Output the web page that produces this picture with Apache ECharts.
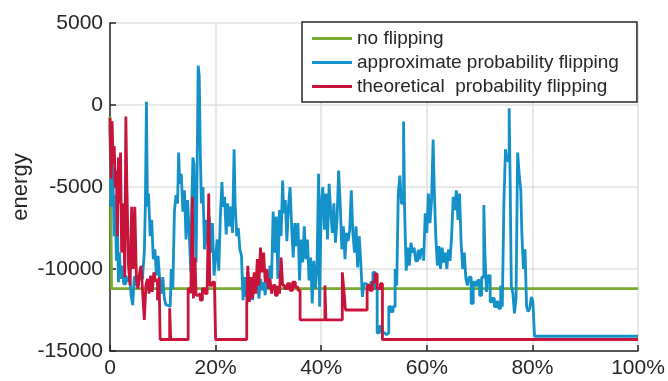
<!DOCTYPE html>
<html>
<head>
<meta charset="utf-8">
<script src="https://cdn.jsdelivr.net/npm/echarts@6/dist/echarts.min.js"></script>
<style>
  html, body { margin: 0; padding: 0; background: #fff; }
  #chart { width: 668px; height: 381px; }
</style>
</head>
<body>
<div id="chart"></div>
<script>
// x in percent of run, y = energy
const xTicks = [0, 20, 40, 60, 80, 100];
const yTicks = [-15000, -10000, -5000, 0, 5000];

const greenX = [0, 0.3, 100];
const greenY = [-700, -11200, -11200];

const blueX = [0, 0.2, 0.4, 0.6, 0.8, 1.0, 1.2, 1.4, 1.6, 1.8, 2.0, 2.3, 2.6, 3.0, 3.3, 3.7, 4.0, 4.3, 4.6, 5.0,
  5.4, 5.8, 6.2, 6.5, 6.7, 6.9, 7.1, 7.3, 7.6, 7.9, 8.2, 8.5, 8.8, 9.1, 9.4, 9.7, 10.0, 10.3, 10.6, 11.0,
  11.4, 11.6, 11.9, 12.2, 12.5, 12.8, 13.0, 13.2, 13.5, 13.8, 14.1, 14.4, 14.7, 15.0, 15.3, 15.5, 15.7, 15.9, 16.1, 16.3,
  16.5, 16.7, 16.9, 17.1, 17.3, 17.6, 17.9, 18.2, 18.5, 18.8, 19.1, 19.4, 19.7, 20.0, 20.3, 20.6, 20.9, 21.2, 21.4, 21.7,
  22.0, 22.3, 22.6, 22.9, 23.2, 23.5, 23.7, 24.0, 24.3, 24.6, 24.9, 25.2, 25.5, 25.8, 26.1, 26.4, 26.7, 27.0, 27.3, 27.6,
  27.9, 28.2, 28.5, 28.8, 29.1, 29.4, 29.7, 30.0, 30.3, 30.6, 30.9, 31.2, 31.5, 31.8, 32.1, 32.4, 32.7, 32.9, 33.2, 33.5,
  33.8, 34.1, 34.4, 34.7, 35.0, 35.3, 35.6, 35.9, 36.2, 36.5, 36.8, 37.1, 37.4, 37.7, 38.0, 38.3, 38.6, 38.9, 39.2, 39.5,
  39.7, 40.0, 40.3, 40.6, 40.9, 41.2, 41.5, 41.8, 42.1, 42.4, 42.7, 43.0, 43.3, 43.6, 43.9, 44.2, 44.5, 44.8, 45.1, 45.4,
  45.7, 46.0, 46.3, 46.6, 46.9, 47.2, 47.5, 47.8, 48.1, 48.5, 49.0, 49.4, 49.8, 50.2, 50.6, 51.0, 51.5, 52.0, 52.4, 52.8,
  53.2, 53.6, 54.0, 54.3, 54.6, 54.9, 55.2, 55.6, 55.8, 56.1, 56.4, 56.7, 57.0, 57.3, 57.6, 57.9, 58.3, 58.7, 59.0, 59.4,
  59.7, 60.0, 60.3, 60.6, 60.9, 61.2, 61.4, 61.7, 62.0, 62.3, 62.6, 62.9, 63.2, 63.5, 63.8, 64.1, 64.4, 64.7, 65.0, 65.3,
  65.6, 65.9, 66.2, 66.5, 66.8, 67.1, 67.4, 67.7, 68.0, 68.4, 68.8, 69.2, 69.6, 70.0, 70.4, 70.8, 71.0, 71.3, 71.6, 72.0,
  72.4, 72.8, 73.2, 73.6, 74.0, 74.3, 74.6, 74.9, 75.2, 75.6, 75.8, 76.0, 76.3, 76.6, 76.9, 77.2, 77.5, 77.8, 78.0, 78.3,
  78.6, 78.9, 79.2, 79.5, 79.8, 80.1, 80.4, 80.7, 100];
const blueY = [-1200, -6200, -3500, -5000, -8000, -5500, -9500, -7200, -10800, -9000, -10600, -9800, -10900, -10400, -10700, -10300, -11600, -12200, -10500, -11000,
  -10400, -10600, -10300, -9000, -6000, 200, -6200, -5400, -8000, -7000, -9400, -8800, -10400, -9200, -10600, -11500, -10500, -11800, -12200, -12300,
  -12300, -10000, -11200, -6500, -5500, -6000, -2900, -4800, -4200, -6500, -5200, -8200, -5800, -7800, -10200, -6000, -3200, -3600, -6800, -9600,
  -4000, 2400, 1800, -2800, -6000, -5000, -8800, -7000, -8500, -6800, -9000, -7200, -10400, -9300, -8200, -10100, -6800, -4700, -6200, -5600,
  -7900, -6000, -7400, -6200, -7800, -2700, -6000, -8000, -7500, -8800, -9200, -11900, -10500, -11700, -10200, -11400, -10800, -11900, -10500, -11200,
  -10400, -11800, -10600, -11300, -10800, -11600, -10200, -11000, -9800, -10600, -6500, -9000, -6800, -10600, -6400, -8000, -4600, -6600, -5800, -8300,
  -6200, -5000, -7400, -9300, -7200, -8600, -7200, -10700, -8200, -9600, -7400, -9400, -8200, -10700, -9300, -12100, -9500, -11200, -10000, -4200,
  -12300, -6000, -5000, -7600, -5400, -8200, -4800, -6500, -7800, -6000, -8400, -7000, -4000, -6000, -8800, -7400, -9400, -7800, -8300, -7600,
  -5200, -7800, -9000, -7400, -9900, -8000, -9600, -11700, -10900, -11000, -11000, -10800, -10200, -11200, -13900, -13500, -13900, -14000, -13900, -12300,
  -12600, -12300, -10000, -11000, -5400, -4300, -6000, -1000, -6500, -10100, -8700, -9800, -8400, -9000, -8700, -9500, -8900, -9400, -8800, -9500,
  -6600, -7800, -5400, -7200, -5800, -2100, -5000, -8000, -9800, -8600, -10000, -8700, -9600, -9000, -10000, -8800, -9500, -8000, -5600, -6400,
  -5200, -7000, -5400, -8400, -10000, -9000, -10600, -11000, -10500, -12100, -10800, -11000, -10700, -11600, -10500, -6100, -9000, -11400, -10400, -12000,
  -11800, -12300, -12000, -12400, -11000, -12300, -6000, -2700, -3400, -200, -5000, -11000, -11500, -12700, -11800, -2900, -4200, -5200, -7800, -10000,
  -8800, -12300, -12600, -12400, -11700, -12000, -14100, -14100, -14100];

const redX = [0, 0.2, 0.4, 0.6, 0.8, 1.0, 1.2, 1.4, 1.6, 1.8, 2.0, 2.2, 2.5, 2.8, 3.0, 3.2, 3.5, 3.8, 4.1, 4.4,
  4.7, 5.0, 5.3, 5.6, 5.9, 6.2, 6.5, 6.8, 7.1, 7.4, 7.7, 8.0, 8.3, 8.6, 9.0, 9.3, 9.5, 11.3, 11.5, 14.8,
  15.3, 15.6, 15.8, 16.1, 16.3, 16.7, 17.1, 17.5, 18.0, 18.4, 18.7, 18.9, 19.4, 19.8, 20.0, 25.9, 26.1, 26.4, 26.7, 27.0,
  27.3, 27.6, 27.9, 28.2, 28.5, 28.8, 29.1, 29.4, 29.7, 30.0, 30.3, 30.6, 30.9, 31.3, 31.7, 32.1, 32.4, 32.7, 33.1, 33.6,
  34.1, 34.6, 35.1, 35.6, 36.0, 40.7, 40.9, 44.0, 44.3, 44.6, 48.7, 49.2, 49.7, 50.2, 50.6, 51.2, 51.6, 100];
const redY = [-800, -4500, -1000, -3600, -2500, -5000, -4000, -8000, -3200, -6000, -2900, -9000, -6000, -10500, -700, -5000, -9800, -11000, -6200, -10000,
  -6200, -10600, -11200, -10200, -9800, -11500, -13100, -11000, -10600, -11500, -10400, -11400, -10200, -10700, -11900, -10500, -14300, -12400, -14300, -11200,
  -11500, -5600, -11800, -9300, -11600, -11500, -11900, -11200, -11500, -11300, -5400, -11000, -10800, -11200, -14300, -12300, -9800, -12000, -10500, -11800,
  -10200, -11500, -9400, -11000, -8700, -10200, -9000, -10800, -10000, -11200, -10600, -11500, -11000, -11600, -11100, -11500, -9300, -11000, -11200, -10900,
  -11300, -10800, -11100, -11300, -13100, -11000, -13100, -10200, -11300, -12500, -11000, -11300, -10800, -10300, -11200, -10900, -14300, -14300];

const names = ["no flipping", "approximate probability flipping", "theoretical  probability flipping"];
const colors = ["#77ac30", "#1591c9", "#c8143b"];

const zip = (xs, ys) => xs.map((x, i) => [x, ys[i]]);
const font = "Liberation Sans, Arial, sans-serif";
const ink = "#262626";

const chart = echarts.init(document.getElementById("chart"));
chart.setOption({
  animation: false,
  color: colors,
  grid: { left: 110, right: 30, top: 23, bottom: 30, containLabel: false, outerBoundsMode: "none" },
  legend: {
    orient: "vertical",
    left: 302,
    top: 22,
    padding: [7, 18, 6, 10],
    itemGap: 5,
    itemWidth: 40,
    itemHeight: 3,
    icon: "rect",
    backgroundColor: "#fff",
    borderColor: ink,
    borderWidth: 1.5,
    borderRadius: 0,
    textStyle: { fontFamily: font, fontSize: 19, color: ink, padding: [0, 0, 0, 0] },
    data: names,
  },
  xAxis: {
    type: "value",
    min: xTicks[0],
    max: xTicks[xTicks.length - 1],
    interval: 20,
    axisLine: { onZero: false, lineStyle: { color: ink, width: 1.5 } },
    axisTick: { inside: true, length: 6, lineStyle: { color: ink, width: 1.5 } },
    axisLabel: {
      color: ink, fontFamily: font, fontSize: 21, margin: 7,
      formatter: (v) => (v === 0 ? "0" : v + "%"),
    },
    splitLine: { lineStyle: { color: "#e0e0e0", width: 1.5 } },
  },
  yAxis: {
    type: "value",
    min: yTicks[0],
    max: yTicks[yTicks.length - 1],
    interval: 5000,
    name: "energy",
    nameLocation: "middle",
    nameGap: 78,
    nameMoveOverlap: false,
    nameTextStyle: { color: ink, fontFamily: font, fontSize: 22 },
    axisLine: { show: true, onZero: false, lineStyle: { color: ink, width: 1.5 } },
    axisTick: { show: true, inside: true, length: 6, lineStyle: { color: ink, width: 1.5 } },
    axisLabel: { color: ink, fontFamily: font, fontSize: 21, margin: 7, formatter: (v) => String(v) },
    splitLine: { lineStyle: { color: "#e0e0e0", width: 1.5 } },
  },
  series: [
    { name: names[0], type: "line", step: "end", symbol: "none", data: zip(greenX, greenY), lineStyle: { width: 2.8 } },
    { name: names[1], type: "line", step: "end", symbol: "none", data: zip(blueX, blueY), lineStyle: { width: 2.8 } },
    { name: names[2], type: "line", step: "end", symbol: "none", data: zip(redX, redY), lineStyle: { width: 2.8 } },
  ],
});
</script>
</body>
</html>
